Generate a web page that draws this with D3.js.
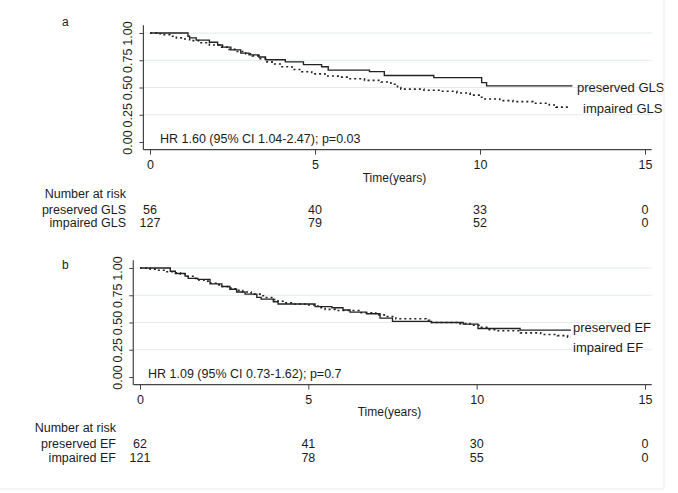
<!DOCTYPE html>
<html><head><meta charset="utf-8">
<script src="https://cdn.jsdelivr.net/npm/d3@7"></script>
<style>
body{margin:0;background:#fff}
svg{display:block}
text{font-family:"Liberation Sans",Arial,Helvetica,sans-serif;fill:#1c1c1c}
</style>
</head><body>
<svg id="c" width="678" height="493"></svg>
<script>
// ---------- data ----------
const xTicks = [0, 5, 10, 15];
const yTicks = [0, 0.25, 0.5, 0.75, 1];
const riskTimes = [0, 5, 10, 15];
const xLabel = "Time(years)";

// Panel a (GLS)
const aPresT = [0,1.15,1.2,1.4,1.8,2.05,2.2,2.45,2.75,3.0,3.3,3.5,4.1,4.65,5.2,5.4,6.65,7.1,8.6,10.05,10.2,12.8];
const aPresS = [1,0.97,0.955,0.935,0.915,0.89,0.87,0.845,0.815,0.8,0.78,0.755,0.735,0.71,0.69,0.66,0.645,0.61,0.59,0.545,0.515,0.515];
const aImpT = [0,0.2,0.4,0.6,0.8,1.0,1.2,1.5,1.8,2.1,2.4,2.6,2.9,3.1,3.3,3.5,3.7,4.0,4.3,4.6,4.9,5.3,5.7,6.0,6.5,7.0,7.3,7.5,7.6,8.3,8.8,9.3,9.7,10.0,10.1,10.6,11.0,11.6,12.1,12.3,12.7];
const aImpS = [1,0.993,0.985,0.97,0.955,0.945,0.93,0.91,0.89,0.87,0.85,0.83,0.81,0.79,0.765,0.735,0.715,0.69,0.665,0.645,0.625,0.605,0.595,0.58,0.565,0.55,0.53,0.5,0.485,0.475,0.465,0.45,0.43,0.41,0.395,0.38,0.37,0.355,0.34,0.32,0.32];
const aNames = ["preserved GLS", "impaired GLS"];
const aRisk = [[56, 40, 33, 0], [127, 79, 52, 0]];
const aHR = "HR 1.60 (95% CI 1.04-2.47); p=0.03";

// Panel b (EF)
const bPresT = [0,0.9,1.05,1.34,1.43,1.72,2.08,2.43,2.67,2.87,3.12,3.47,3.6,3.96,4.1,5.2,5.7,6.03,6.24,6.73,7.13,7.5,8.66,9.6,10.04,11.29,12.8];
const bPresS = [1,0.97,0.95,0.925,0.905,0.895,0.855,0.83,0.805,0.78,0.76,0.73,0.715,0.69,0.67,0.645,0.635,0.615,0.595,0.58,0.54,0.51,0.5,0.485,0.445,0.43,0.43];
const bImpT = [0,0.3,0.5,0.8,1.0,1.2,1.4,1.6,1.7,1.9,2.1,2.3,2.4,2.6,2.7,2.9,3.05,3.3,3.4,3.6,3.7,3.95,4.1,4.3,4.6,4.9,5.2,5.35,5.5,5.8,6.5,7.0,7.3,7.6,8.5,8.6,9.5,9.8,10.1,10.3,10.6,11.3,11.9,12.4,12.7,12.8];
const bImpS = [1,0.99,0.98,0.965,0.955,0.945,0.925,0.905,0.89,0.88,0.86,0.845,0.83,0.815,0.81,0.795,0.78,0.77,0.76,0.745,0.73,0.71,0.695,0.68,0.67,0.66,0.65,0.635,0.62,0.61,0.59,0.57,0.555,0.535,0.52,0.5,0.49,0.475,0.455,0.435,0.425,0.405,0.39,0.38,0.365,0.365];
const bNames = ["preserved EF", "impaired EF"];
const bRisk = [[62, 41, 30, 0], [121, 78, 55, 0]];
const bHR = "HR 1.09 (95% CI 0.73-1.62); p=0.7";

// ---------- layout ----------
const panels = [
  {tag:"a", tagX:62, tagY:26, x0:150, x15:645, yTop:33, yBot:142,
   pres:[aPresT,aPresS], imp:[aImpT,aImpS], names:aNames, risk:aRisk, hr:aHR,
   legY:[87,108], legX:[577,583], hrX:160,
   xLabY:182, nrY:198, rowY:[214,227], rowX:126},
  {tag:"b", tagX:62, tagY:269, x0:140, x15:645, yTop:268, yBot:377,
   pres:[bPresT,bPresS], imp:[bImpT,bImpS], names:bNames, risk:bRisk, hr:bHR,
   legY:[327,347], legX:[573,573], hrX:148,
   xLabY:416, nrY:432, rowY:[448,462], rowX:116}
];

const svg = d3.select("#c");
const FS = 12.5;

panels.forEach(p => {
  const x = d3.scaleLinear().domain([0,15]).range([p.x0, p.x15]);
  const y = d3.scaleLinear().domain([0,1]).range([p.yBot, p.yTop]);
  const xL = x(-0.2), xR = x(15.2), yB = y(-0.07), yT = y(1.07);
  const g = svg.append("g");

  // grid
  g.append("g").selectAll("line").data(yTicks.filter(d => d > 0)).join("line")
    .attr("x1", xL).attr("x2", xR).attr("y1", d => y(d)).attr("y2", d => y(d))
    .attr("stroke", "#e4eaed").attr("stroke-width", 1);

  // y axis
  const ya = g.append("g").attr("transform", `translate(${xL},0)`)
    .call(d3.axisLeft(y).tickValues(yTicks).tickFormat(d3.format(".2f")).tickSize(4).tickSizeOuter(0));
  ya.select(".domain").remove();
  ya.selectAll(".tick line").attr("stroke", "#444");
  ya.selectAll(".tick text").attr("transform", "rotate(-90)")
    .attr("x", 0).attr("y", -11.5).attr("dy", 0)
    .attr("text-anchor", "middle").style("font-size", FS + "px")
    .style("font-family", '"Liberation Sans",Arial,sans-serif').attr("fill", "#1c1c1c");
  g.append("line").attr("x1", xL).attr("x2", xL).attr("y1", yT).attr("y2", yB)
    .attr("stroke", "#444").attr("stroke-width", 1.2);

  // x axis
  const xa = g.append("g").attr("transform", `translate(0,${yB})`)
    .call(d3.axisBottom(x).tickValues(xTicks).tickSize(5).tickSizeOuter(0));
  xa.select(".domain").remove();
  xa.selectAll(".tick line").attr("stroke", "#444");
  xa.selectAll(".tick text").attr("y", 10).attr("dy", "0.71em")
    .style("font-size", FS + "px").style("font-family", '"Liberation Sans",Arial,sans-serif').attr("fill", "#1c1c1c");
  g.append("line").attr("x1", xL).attr("x2", xR).attr("y1", yB).attr("y2", yB)
    .attr("stroke", "#444").attr("stroke-width", 1.2);

  // curves
  const line = d3.line().curve(d3.curveStepAfter).x(d => x(d[0])).y(d => y(d[1]));
  const pres = p.pres[0].map((t, i) => [t, p.pres[1][i]]);
  const imp = p.imp[0].map((t, i) => [t, p.imp[1][i]]);
  g.append("path").datum(imp).attr("d", line).attr("fill", "none")
    .attr("stroke", "#222").attr("stroke-width", 1.6).attr("stroke-dasharray", "2,3");
  g.append("path").datum(pres).attr("d", line).attr("fill", "none")
    .attr("stroke", "#222").attr("stroke-width", 1.35);

  // curve labels
  p.names.forEach((n, i) => {
    g.append("text").attr("x", p.legX[i]).attr("y", p.legY[i]).attr("dy", "0.35em")
      .style("font-size", "13px").text(n);
  });

  // HR text
  g.append("text").attr("x", p.hrX).attr("y", yB - 7).style("font-size", FS + "px").text(p.hr);

  // tag
  g.append("text").attr("x", p.tagX).attr("y", p.tagY).style("font-size", "12px").text(p.tag);

  // x label
  g.append("text").attr("x", (xL + xR) / 2 - 3).attr("y", p.xLabY).attr("text-anchor", "middle")
    .style("font-size", "12px").text(xLabel);

  // number at risk
  g.append("text").attr("x", p.rowX).attr("y", p.nrY).attr("text-anchor", "end")
    .style("font-size", FS + "px").text("Number at risk");
  p.names.forEach((n, i) => {
    g.append("text").attr("x", p.rowX).attr("y", p.rowY[i]).attr("text-anchor", "end")
      .style("font-size", FS + "px").text(n);
    g.selectAll(null).data(riskTimes).join("text")
      .attr("x", d => x(d)).attr("y", p.rowY[i]).attr("text-anchor", "middle")
      .style("font-size", FS + "px").text((d, j) => p.risk[i][j]);
  });
});

// faint frame
svg.append("line").attr("x1", 0).attr("x2", 664).attr("y1", 489).attr("y2", 489).attr("stroke", "#ececec");
svg.append("line").attr("x1", 664).attr("x2", 664).attr("y1", 0).attr("y2", 489).attr("stroke", "#ececec");
</script>
</body></html>
